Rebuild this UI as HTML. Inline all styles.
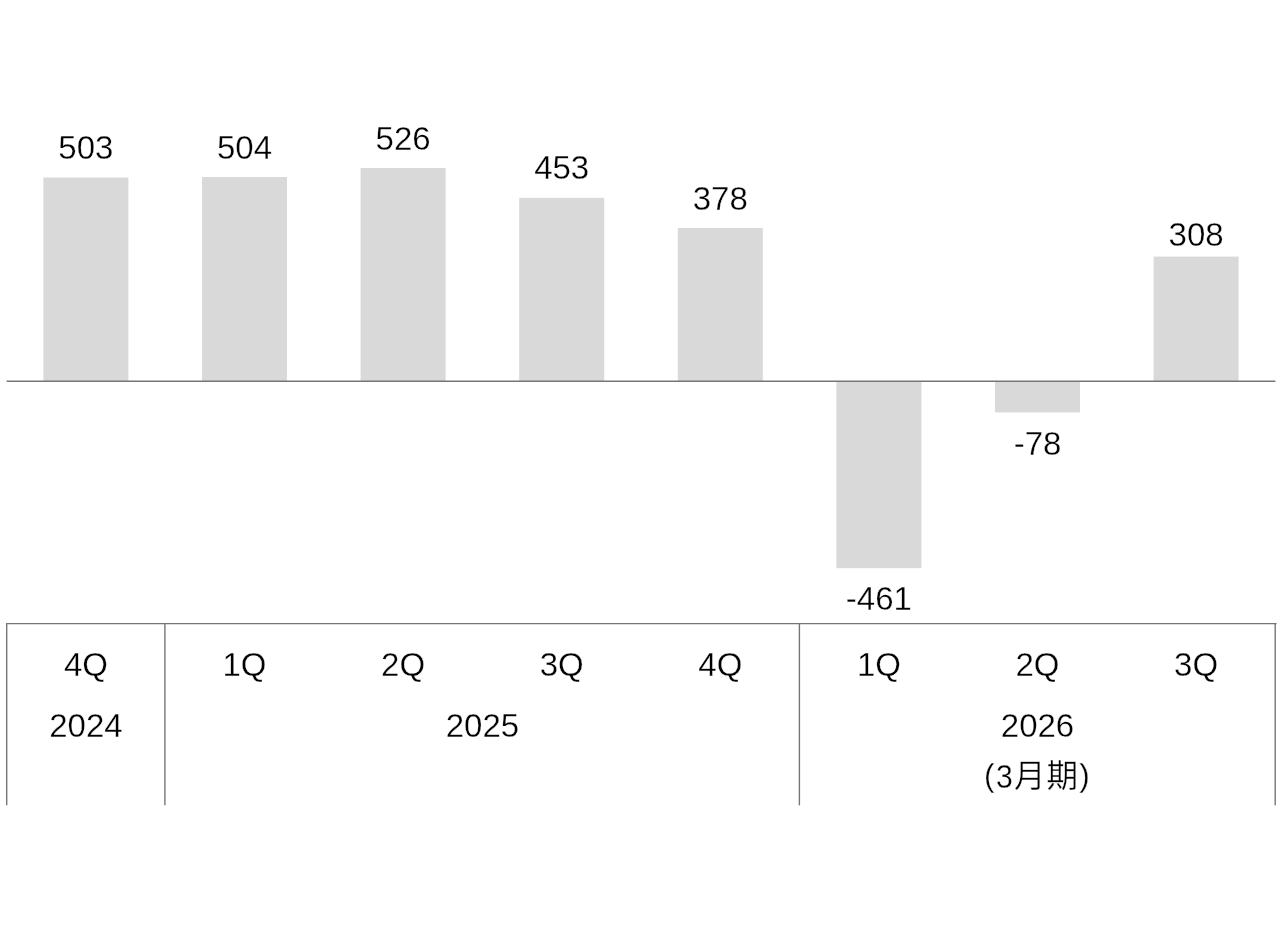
<!DOCTYPE html>
<html lang="ja">
<head>
<meta charset="utf-8">
<title>Quarterly chart</title>
<style>
html,body{margin:0;padding:0;background:#fff;}
body{width:1280px;height:946px;position:relative;overflow:hidden;font-family:"Liberation Sans","Noto Sans CJK JP",sans-serif;color:#000;}
#chart{position:absolute;left:0;top:0;width:1280px;height:946px;}
svg{position:absolute;left:0;top:0;display:block;}
.t{position:absolute;width:200px;margin-left:-100px;text-align:center;font-size:33px;line-height:40px;height:40px;white-space:nowrap;letter-spacing:0.0px;-webkit-text-stroke:0.3px #fff;}
.j{font-family:"Liberation Sans","Noto Sans CJK JP",sans-serif;font-size:31.5px;letter-spacing:1.2px;}
.j .p{position:relative;top:-1.5px;}
.j .n{display:inline-block;font-size:33.5px;line-height:1;transform:scaleX(0.9);margin:0 -0.8px;position:relative;top:1px;}
</style>
</head>
<body>
<div id="chart">
<svg width="1280" height="946" viewBox="0 0 1280 946">
<g fill="#d9d9d9">
<rect x="43.40" y="177.50" width="85.00" height="203.70"/>
<rect x="202.00" y="177.00" width="85.00" height="204.20"/>
<rect x="360.60" y="168.00" width="85.00" height="213.20"/>
<rect x="519.20" y="197.80" width="85.00" height="183.40"/>
<rect x="677.80" y="228.00" width="85.00" height="153.20"/>
<rect x="836.40" y="381.20" width="85.00" height="187.00"/>
<rect x="995.00" y="381.20" width="85.00" height="31.20"/>
<rect x="1153.60" y="256.60" width="85.00" height="124.60"/>
</g>
<g stroke="#767676" stroke-width="1.4" fill="none">
<line x1="6.6" y1="381.20" x2="1275.4" y2="381.20"/>
<line x1="6.0" y1="623.6" x2="1276.6" y2="623.6"/>
<line x1="6.70" y1="623.6" x2="6.70" y2="805.3"/>
<line x1="164.90" y1="623.6" x2="164.90" y2="805.3"/>
<line x1="799.40" y1="623.6" x2="799.40" y2="805.3"/>
<line x1="1275.20" y1="623.6" x2="1275.20" y2="805.3"/>
</g>
</svg>
<div class="t" style="left:85.90px;top:127.87px">503</div>
<div class="t" style="left:244.50px;top:127.87px">504</div>
<div class="t" style="left:403.10px;top:118.87px">526</div>
<div class="t" style="left:561.70px;top:148.37px">453</div>
<div class="t" style="left:720.30px;top:178.87px">378</div>
<div class="t" style="left:878.90px;top:578.57px">-461</div>
<div class="t" style="left:1037.50px;top:423.87px">-78</div>
<div class="t" style="left:1196.10px;top:215.17px">308</div>
<div class="t" style="left:85.90px;top:644.87px">4Q</div>
<div class="t" style="left:244.50px;top:644.87px">1Q</div>
<div class="t" style="left:403.10px;top:644.87px">2Q</div>
<div class="t" style="left:561.70px;top:644.87px">3Q</div>
<div class="t" style="left:720.30px;top:644.87px">4Q</div>
<div class="t" style="left:878.90px;top:644.87px">1Q</div>
<div class="t" style="left:1037.50px;top:644.87px">2Q</div>
<div class="t" style="left:1196.10px;top:644.87px">3Q</div>
<div class="t" style="left:85.90px;top:705.97px">2024</div>
<div class="t" style="left:482.40px;top:705.97px">2025</div>
<div class="t" style="left:1037.50px;top:705.97px">2026</div>
<div class="t j" style="left:1037.50px;top:756.09px"><span class="p">(</span><span class="n">3</span>月期<span class="p">)</span></div>
</div>
</body>
</html>
